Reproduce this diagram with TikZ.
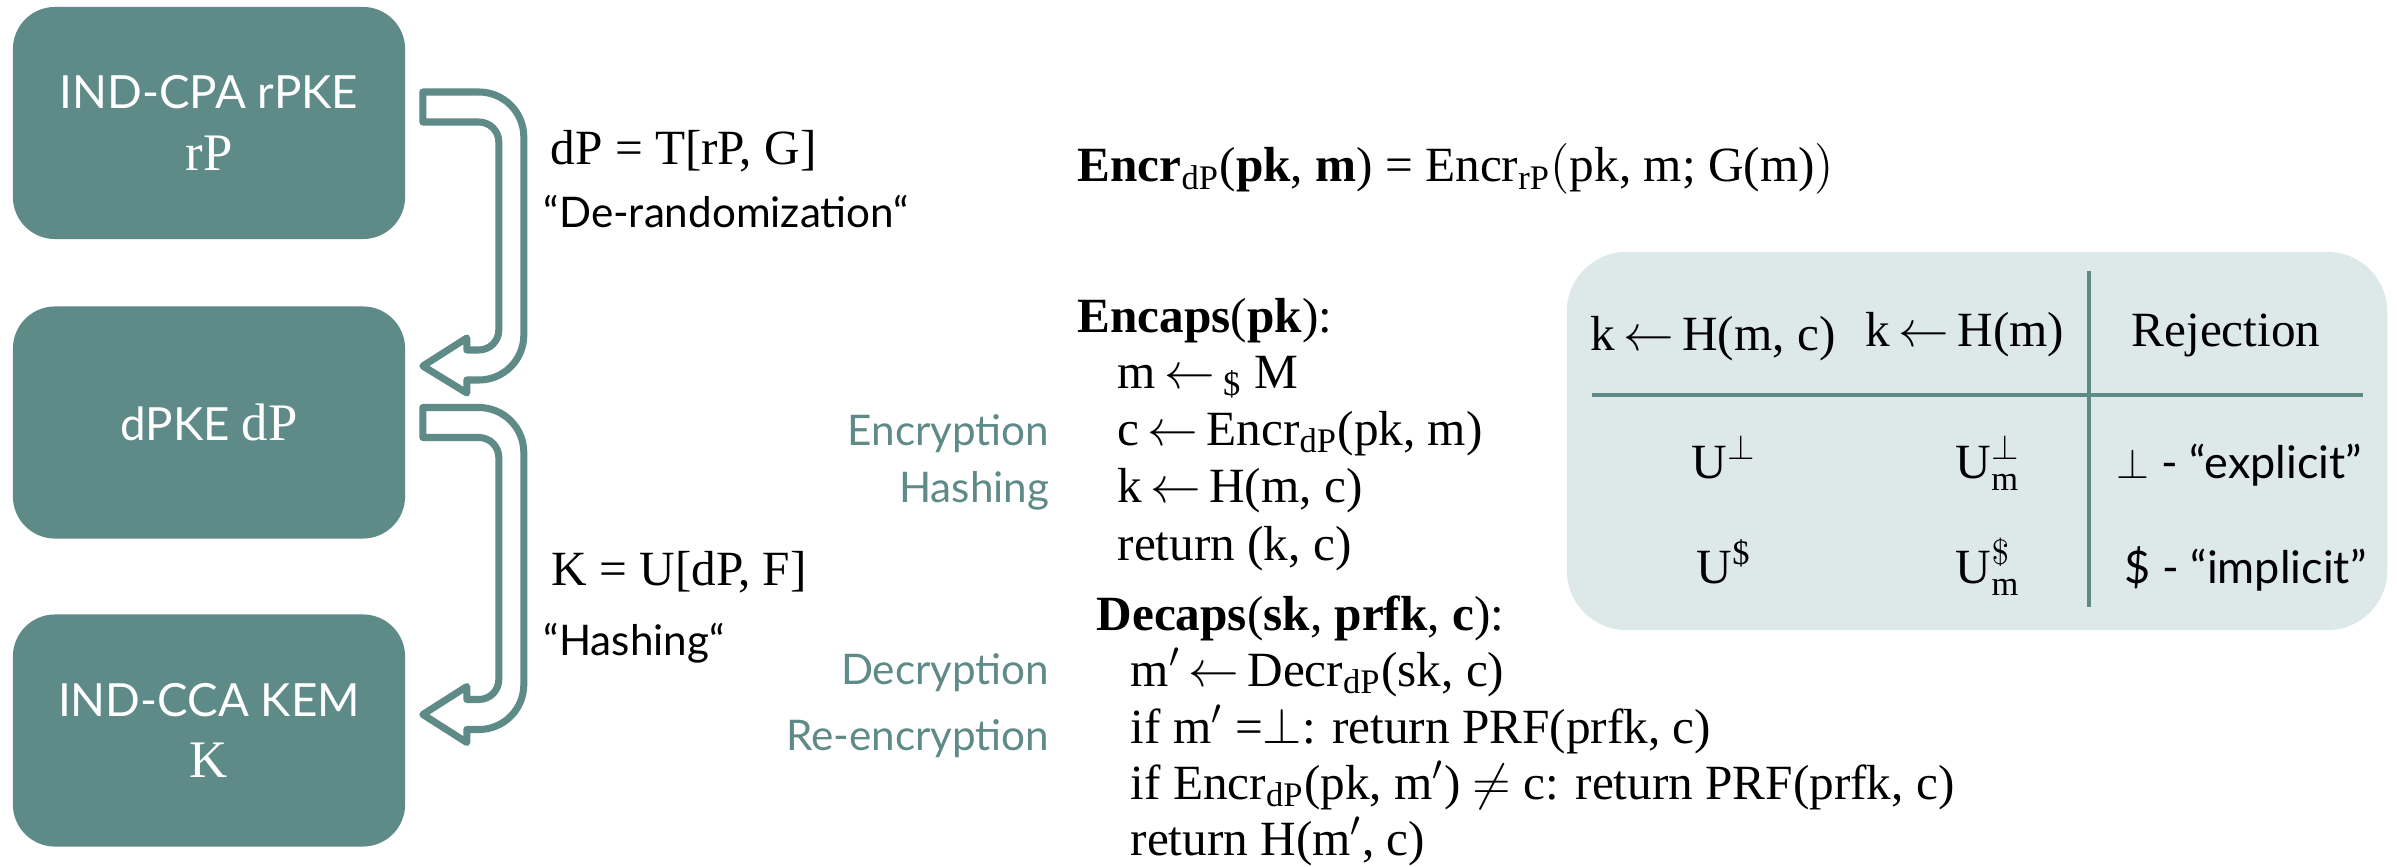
\documentclass[tikz,border=0pt]{standalone}
\usepackage{fontspec}
\setmainfont{Liberation Serif}
\setsansfont{Lato}
\usetikzlibrary{calc}
\definecolor{tealA}{RGB}{94,138,135}
\definecolor{tblfill}{RGB}{221,232,232}
\newcommand\lar{\,$\leftarrow$\,}
\newcommand\sbs[1]{\textsubscript{#1}}
\tikzset{
  box/.style={fill=tealA, rounded corners=12pt, minimum width=3.92cm, minimum height=2.32cm,
    text=white, align=center, inner sep=0pt, font=\sffamily\fontsize{13}{17.5}\selectfont},
  harrow/.style={draw=tealA, fill=white, line width=2pt, line join=round},
  ser/.style={font=\rmfamily\fontsize{14}{16}\selectfont, inner sep=0pt, anchor=base west},
  cl/.style={ser, text height=9.5pt, text depth=3pt},
  sans/.style={font=\sffamily\fontsize{12}{14}\selectfont, inner sep=0pt, anchor=base west},
  tsans/.style={font=\sffamily\fontsize{12.8}{14}\selectfont, inner sep=0pt, anchor=base west},
  tlab/.style={font=\sffamily\fontsize{12}{14}\selectfont, inner sep=0pt, anchor=base east, text=tealA},
  tblbox/.style={fill=tblfill, rounded corners=17pt, minimum width=8.2cm, minimum height=3.78cm, inner sep=0pt},
  tline/.style={draw=tealA, line width=1.4pt},
}
\newcommand\bxs[1]{{\rmfamily\fontsize{15}{17.5}\selectfont #1}}
\begin{document}
\begin{tikzpicture}[x=0.01cm,y=-0.01cm]
\path[use as bounding box, fill=white] (0,0) rectangle (2397,867);

% left boxes
\node[box] (rp) at (209,123) {IND-CPA rPKE\\\bxs{rP}};
\node[box] (dp) at (209,422.5) {dPKE \bxs{dP}};
\node[box] (kem) at (209,730.5) {IND-CCA KEM\\\bxs{K}};

% hollow U-turn arrows
\begin{scope}[shift={(rp.east)}]
\draw[harrow] (17,-31) -- (73,-31) .. controls (97.9,-31) and (118,-10.9) .. (118,14)
  -- (118,212) .. controls (118,236.9) and (97.9,257) .. (73,257) -- (61,257) -- (61,270)
  -- (17,243) -- (61,215) -- (61,227) -- (73,227) .. controls (84,227) and (93,218) .. (93,207)
  -- (93,19) .. controls (93,8) and (84,-1) .. (73,-1) -- (17,-1) -- cycle;
\end{scope}
\begin{scope}[shift={(dp.east)}]
\draw[harrow] (17,-15) -- (73,-15) .. controls (97.9,-15) and (118,5.1) .. (118,30)
  -- (118,262) .. controls (118,286.9) and (97.9,307) .. (73,307) -- (61,307) -- (61,320)
  -- (17,292) -- (61,264) -- (61,277) -- (73,277) .. controls (84,277) and (93,268) .. (93,257)
  -- (93,35) .. controls (93,24) and (84,15) .. (73,15) -- (17,15) -- cycle;
\end{scope}

% arrow labels
\node[ser] (t1) at (550,165) {dP = T[rP, G]};
\node[sans] (t2) at (543,228) {“De-randomization“};
\node[ser] (t3) at (551,585) {K = U[dP, F]};
\node[sans] (t4) at (543,655) {“Hashing“};

% top formula
\node[ser] (encr) at (1077,182) {\textbf{Encr}\sbs{dP}(\textbf{pk}, \textbf{m}) = Encr\sbs{rP}$\bigl($pk, m; G(m)$\bigr)$};

% Encaps
\node[cl] (enc) at (1077,332) {\textbf{Encaps}(\textbf{pk}):};
\node[cl] (e1) at (1117,388) {m\lar\sbs{\$} M};
\node[cl] (e2) at (1117,445) {c\lar Encr\sbs{dP}(pk, m)};
\node[cl] (e3) at (1117,502) {k\lar H(m, c)};
\node[cl] (e4) at (1117,560) {return (k, c)};
\node[tlab] (l1) at (1050,445) {Encryption};
\node[tlab] (l2) at (1050,502) {Hashing};

% Decaps
\node[cl] (dec) at (1096,630) {\textbf{Decaps}(\textbf{sk}, \textbf{prfk}, \textbf{c}):};
\node[cl] (d1) at (1130,686) {m$'$\lar Decr\sbs{dP}(sk, c)};
\node[cl] (d2) at (1130,743) {if m$'$ =$\perp$: return PRF(prfk, c)};
\node[cl] (d3) at (1130,799) {if Encr\sbs{dP}(pk, m$'$) $\neq$ c: return PRF(prfk, c)};
\node[cl] (d4) at (1130,855) {return H(m$'$, c)};
\node[tlab] (l3) at (1050,684) {Decryption};
\node[tlab] (l4) at (1050,750) {Re-encryption};

% table
\node[tblbox] (tb) at (1977,441) {};
\draw[tline] (2089,271) -- (2089,607);
\draw[tline] (1592,395) -- (2363,395);
\node[ser, anchor=base] (h1) at (1713,350) {k\lar H(m, c)};
\node[ser, anchor=base] (h2) at (1965,347) {k\lar H(m)};
\node[ser, anchor=base] (h3) at (2226,347) {Rejection};
\node[ser, anchor=base] (c11) at (1724,478) {U\textsuperscript{$\perp$}};
\node[ser, anchor=base] (c12) at (1988,478) {U$^{\perp}_{\mathrm{m}}$};
\node[tsans] (c13) at (2116,478) {$\perp$ - “explicit”};
\node[ser, anchor=base] (c21) at (1724,583) {U\textsuperscript{\$}};
\node[ser, anchor=base] (c22) at (1988,583) {U$^{\$}_{\mathrm{m}}$};
\node[tsans] (c23) at (2124,583) {\$ - “implicit”};
\end{tikzpicture}
\end{document}
